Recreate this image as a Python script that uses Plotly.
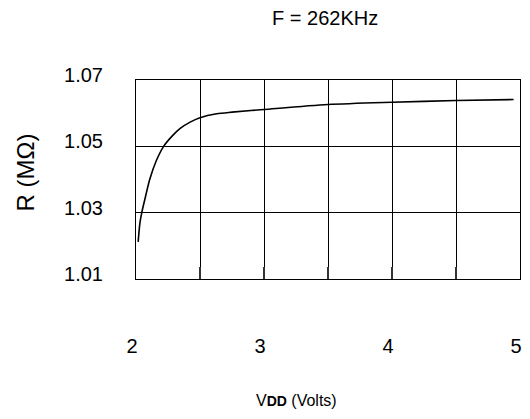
import plotly.graph_objects as go

# Data
vdd = [2.017, 2.03, 2.045, 2.074, 2.107, 2.16, 2.216, 2.28, 2.345, 2.423, 2.5,
       2.63, 2.75, 3.0, 3.5, 4.0, 4.5, 4.95]
resistance = [1.0212, 1.0267, 1.0300, 1.0348, 1.0400, 1.0458, 1.0500, 1.0530,
              1.0554, 1.0573, 1.0586, 1.0598, 1.0603, 1.0611, 1.0626, 1.0633,
              1.0638, 1.0641]

x_ticks = [2, 3, 4, 5]
x_grid = [2, 2.5, 3, 3.5, 4, 4.5, 5]
y_ticks = [1.01, 1.03, 1.05, 1.07]

title_text = "F = 262KHz"
x_title = "V<b><span style='font-size:14px'>DD</span></b> (Volts)"
y_title = "R (MΩ)"

FONT = "Liberation Sans, Arial, sans-serif"

W, H = 530, 419
L, R, T, B = 135.5, 8, 79.5, 140
PW, PH = W - L - R, H - T - B


def px_to_paper(px, py):
    return (px - L) / PW, (H - B - py) / PH


fig = go.Figure()
fig.add_trace(go.Scatter(
    x=vdd, y=resistance, mode="lines",
    line=dict(color="black", width=1.6, shape="spline", smoothing=0.8),
    showlegend=False, hoverinfo="skip",
))

tx, ty = px_to_paper(326, 17)
xx, xy = px_to_paper(297, 401)
yx, yy = px_to_paper(24, 172)

fig.update_layout(
    width=W, height=H,
    margin=dict(l=L, r=R, t=T, b=B),
    paper_bgcolor="white", plot_bgcolor="white",
    font=dict(family=FONT, color="black"),
    showlegend=False,
    xaxis=dict(
        range=[2, 5], tickvals=x_grid,
        ticktext=[str(v) if v in x_ticks else "" for v in x_grid],
        showgrid=True, gridcolor="black", gridwidth=1,
        showline=True, linecolor="black", linewidth=1, mirror=True,
        ticks="inside", ticklen=12, tickcolor="#333", tickwidth=1.5,
        tickfont=dict(size=20, family=FONT, color="black"),
        ticklabelstandoff=49, ticklabelshift=-4,
        zeroline=False, fixedrange=True,
    ),
    yaxis=dict(
        range=[1.01, 1.07], tickvals=y_ticks, ticktext=[f"{v:.2f}" for v in y_ticks],
        showgrid=True, gridcolor="black", gridwidth=1,
        showline=True, linecolor="black", linewidth=1, mirror=True,
        ticks="",
        tickfont=dict(size=20, family=FONT, color="black"),
        ticklabelstandoff=28, ticklabelshift=-5,
        zeroline=False, fixedrange=True,
    ),
    annotations=[
        dict(text=title_text, x=tx, y=ty, xref="paper", yref="paper",
             xanchor="center", yanchor="middle", showarrow=False,
             font=dict(size=20, family=FONT, color="black")),
        dict(text=x_title, x=xx, y=xy, xref="paper", yref="paper",
             xanchor="center", yanchor="middle", showarrow=False,
             font=dict(size=16, family=FONT, color="black")),
        dict(text=y_title, x=yx, y=yy, xref="paper", yref="paper",
             xanchor="center", yanchor="middle", showarrow=False, textangle=-90,
             font=dict(size=24, family=FONT, color="black")),
    ],
)

fig.write_html("out.html", config={"displayModeBar": False},
               post_script="document.body.style.margin='0';")
